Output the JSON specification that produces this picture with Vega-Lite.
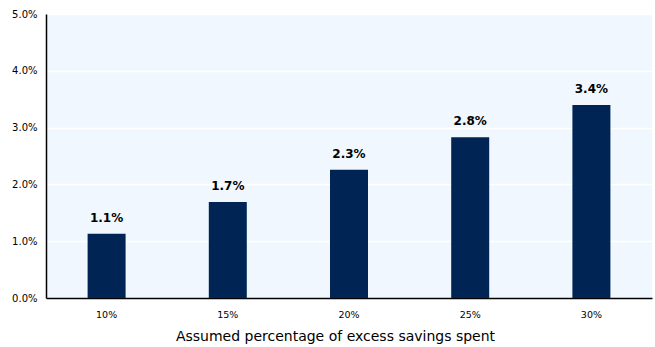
{
  "$schema": "https://vega.github.io/schema/vega-lite/v6.json",
  "autosize": "none",
  "width": 606,
  "height": 284,
  "padding": {"left": 46, "top": 14, "right": 3, "bottom": 49},
  "background": "white",
  "config": {
    "view": {"fill": "#F0F7FE", "stroke": null},
    "font": "DejaVu Sans",
    "axis": {"labelFont": "DejaVu Sans", "titleFont": "DejaVu Sans", "labelColor": "#000", "titleColor": "#000"}
  },
  "data": {"values": [
    {"pct": "10%", "v": 1.13, "label": "1.1%"},
    {"pct": "15%", "v": 1.69, "label": "1.7%"},
    {"pct": "20%", "v": 2.26, "label": "2.3%"},
    {"pct": "25%", "v": 2.83, "label": "2.8%"},
    {"pct": "30%", "v": 3.40, "label": "3.4%"}
  ]},
  "encoding": {
    "x": {"field": "pct", "type": "ordinal", "sort": null,
      "scale": {"paddingInner": 0, "paddingOuter": 0},
      "axis": {"title": "Assumed percentage of excess savings spent", "labelAngle": 0, "labelFontSize": 9.5, "labelPadding": 11, "titleFontSize": 14, "titleFontWeight": "normal", "titlePadding": 11, "titleX": 289, "titleAlign": "center", "ticks": false, "domainColor": "#000", "domainWidth": 1.5}},
    "y": {"field": "v", "type": "quantitative",
      "scale": {"domain": [0, 5]},
      "axis": {"title": null, "values": [0, 1, 2, 3, 4, 5], "labelExpr": "format(datum.value, '.1f') + '%'", "labelFontSize": 10, "labelPadding": 9, "ticks": false, "domainColor": "#000", "domainWidth": 1.5, "gridColor": "white", "gridWidth": 1.5}}
  },
  "layer": [
    {"mark": {"type": "bar", "color": "#002554", "size": 38}},
    {"mark": {"type": "text", "baseline": "bottom", "dy": -9, "fontWeight": "bold", "fontSize": 12, "color": "#000"},
     "encoding": {"text": {"field": "label"}}}
  ]
}
